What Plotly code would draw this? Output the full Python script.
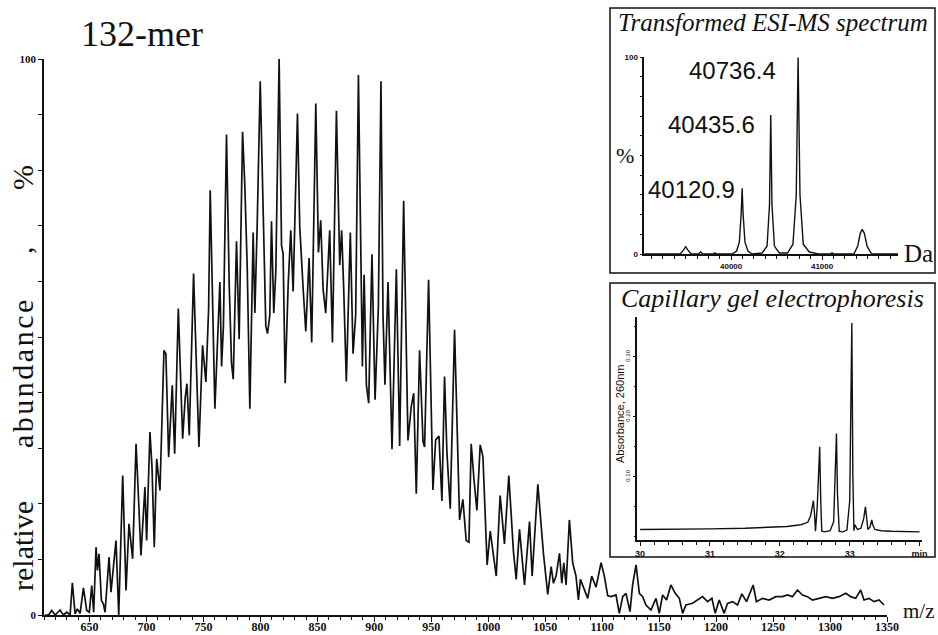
import plotly.graph_objects as go

W, H = 938, 635

# ---------------- ESI-MS spectrum of the 132-mer (m/z, relative abundance %) ----------------
rise_mz = [611, 614, 616.8, 619.8, 624.1, 627, 630, 632.9, 634.9, 637.3, 639.3, 641.7, 644.6, 647.5,
           649.8, 651.9, 653.6, 655.7, 656.9, 658.3, 660.4, 662.1, 663.6, 667.1, 668.8, 670.9, 673.2,
           675.6, 679.1, 682, 684.6, 687.8, 690.8, 692.8, 695.1, 698.6, 700.1, 703, 704.8, 706.8,
           708.9, 711.8, 715.3, 717, 719.4, 722.6, 724.7, 727.9, 731.7, 734, 735.5, 737.5, 741.3,
           746, 749.2, 752.1]
rise_ab = [0, 0, 0.8, 0, 0.9, 0, 0.5, 0, 5.8, 0.2, 1.1, 0.3, 4.9, 0.8,
           0.5, 5.3, 0.5, 12.2, 8, 11, 2.6, 2, 0.5, 10.4, 4.1, 8, 13.4,
           0, 25.1, 4.4, 16.4, 10.1, 30.8, 21.8, 10.7, 23, 13.4, 32.9, 26.6, 12.2,
           28.1, 22.4, 47.6, 47, 28.4, 41.3, 29, 55.1, 31.7, 39.2, 41.6, 32.3, 61.4,
           30.2, 48.5, 41.9]

core_mz = [754.5, 755.9, 757.5, 760, 764.4, 765.9, 767.5, 770.2, 772.6, 774.6, 776.1, 779, 781.3,
           784.3, 786.3, 788.4, 790.7, 793.6, 795.1, 797.1, 799.8, 802.4, 804.7, 806.2, 808.2, 809.7,
           811.7, 813.5, 816.4, 818.5, 819.9, 821.7, 824.3, 826.6, 828.7, 832.5, 834.5, 837.5, 839.8,
           842.7, 845, 848.6, 850.9, 852.9, 855, 857.3, 860.8, 863.2, 866.7, 869.6, 871.3, 873.1,
           875.4, 878.9, 881.3, 883.6, 886, 889.5, 891, 893, 895, 897.9, 900.6, 903.5, 905.8,
           907.6, 909.3, 912, 915.5, 919.3, 922.2, 925.7, 929.5]
core_ab = [55, 76.4, 62, 37.1, 59.9, 44.7, 52, 86.4, 59.2, 45.3, 42.4, 67.2, 49.6,
           86.9, 77.1, 62.5, 37.1, 68.8, 54.3, 69.8, 96, 69.2, 52, 50.6, 53.9, 70.8,
           54.3, 61.9, 100, 66.5, 64.9, 41.7, 59.2, 69.2, 58.2, 90.2, 69.8, 58.6, 51,
           64.2, 49, 92, 65.2, 71, 58.6, 54.3, 69.2, 49, 90.7, 62.9, 69.2, 58.6,
           42, 68.8, 47, 53.9, 97.1, 44.7, 61.2, 41.4, 38.1, 64.9, 38.7, 55.3, 96,
           53.9, 41.4, 59.9, 29.8, 62.2, 30.4, 74.5, 31.4]

tail_mz = [932.4, 934.5, 936.8, 939.7, 942.7, 944.1, 947.6, 951.4, 953.8, 956.7,
           959.3, 961.6, 963.7, 966.6, 970.4, 974.8, 977.7, 980.6, 983, 985,
           987.4, 990, 992.9, 995.3, 999, 1001.7, 1007, 1010.4, 1014.2, 1018,
           1022.1, 1024.5, 1027.4, 1031.8, 1036.2, 1038.5, 1043.5, 1048.4, 1052.2, 1055.2,
           1057.2, 1059.5, 1062.5, 1064.5, 1066.3, 1068.3, 1071.2, 1074.1, 1077, 1079.1,
           1080.9, 1084.4, 1087.3, 1090.8, 1094.6, 1099, 1101.9, 1104.8, 1107.8, 1112.1,
           1115, 1118, 1120.9, 1124.4, 1126.7, 1129.7, 1132.6, 1135.5, 1138.4, 1142.8,
           1147.2, 1150.1, 1153, 1156.5, 1160.3, 1164.1, 1167.7, 1170.6, 1173.5, 1179.3,
           1183.7, 1188.1, 1192.5, 1196.3, 1199.2, 1202.7, 1207.1, 1210, 1214.4, 1218.8,
           1222.6, 1226.7, 1232.5, 1235.4, 1240.7, 1246.5, 1252.4, 1258.2, 1262.6, 1267,
           1271.4, 1275.8, 1280.1, 1284.5, 1290.4, 1296.2, 1302.1, 1307.9, 1313.8, 1318.1,
           1322.5, 1326.9, 1329.8, 1334.2, 1338.6, 1343, 1347.4]
tail_ab = [37.5, 39.9, 21.8, 47.6, 31.2, 30.2, 60.3, 22.5, 31.5, 32.2,
           20.5, 42.9, 29.2, 19.1, 51.3, 17.1, 20.8, 13.4, 13.1, 30.8,
           24.5, 18.8, 30.6, 28.5, 9, 15.1, 7, 21.5, 12.8, 25.1,
           11.4, 6.4, 15.4, 5.4, 16.8, 7, 23.5, 11.1, 3.7, 8.7,
           5.7, 7, 11.1, 5.7, 9.4, 5.4, 17.1, 9.4, 7, 2.7,
           6.4, 4.4, 3, 7, 5, 9.4, 7, 3.5, 3.3, 3.6,
           0.3, 3.3, 3.9, 0.6, 5.4, 9, 3.9, 3.3, 1.8, 0.9,
           3, 0.3, 3.6, 2.7, 5.4, 3.9, 3, 0.3, 1.8, 2.1,
           2.7, 3.3, 2.4, 3, 0.3, 2.7, 0.3, 2.1, 2.4, 1.8,
           3.8, 2.4, 5.4, 2.4, 3, 2.7, 3.3, 3.3, 3.6, 3.3,
           4.5, 3.6, 3.3, 2.7, 3, 3.3, 3, 3.3, 3.9, 3.3,
           3, 4.5, 2.7, 3, 2.4, 2.7, 1.8]

mz = rise_mz + core_mz + tail_mz
ab = rise_ab + core_ab + tail_ab
assert len(mz) == len(ab)

# ---------------- transformed (deconvoluted) spectrum, Da vs % ----------------
peak_da = [40120.9, 40435.6, 40736.4]
peak_pct = [33.4, 70.7, 100]

tms_da = [39045, 39440, 39475, 39500, 39525, 39560, 39640, 39665, 39690, 39800, 39820, 39840,
          40010, 40060, 40090, 40110, peak_da[0], 40132, 40152, 40185, 40230,
          40340, 40395, 40422, peak_da[1], 40449, 40476, 40530,
          40620, 40680, 40716, peak_da[2], 40757, 40793, 40860, 40960,
          41090, 41110, 41130, 41350, 41392, 41420, 41442, 41465, 41495, 41545, 41835]
tms_pct = [0, 0, 2, 3.7, 2, 0, 0, 1, 0, 0, 0.6, 0,
           0, 1.5, 6, 20, peak_pct[0], 20, 6, 1.5, 0,
           0.5, 4, 25, peak_pct[1], 25, 4, 0.5,
           0.5, 5, 30, peak_pct[2], 30, 5, 1, 0,
           0, 0.6, 0, 0, 4, 10.5, 12.5, 10.5, 4, 0, 0]
assert len(tms_da) == len(tms_pct)

# ---------------- capillary gel electrophoresis trace ----------------
cge_min = [30.0, 30.5, 31.0, 31.5, 31.8, 32.1, 32.3, 32.4, 32.44, 32.47, 32.48, 32.495, 32.51,
           32.535, 32.555, 32.57, 32.585, 32.6, 32.64, 32.72, 32.77, 32.795, 32.81, 32.825, 32.85,
           32.9, 32.96, 33.0, 33.015, 33.03, 33.045, 33.06, 33.075, 33.09, 33.11, 33.16, 33.2,
           33.225, 33.24, 33.26, 33.29, 33.315, 33.33, 33.36, 33.45, 33.6, 34.0]
cge_abs = [0.012, 0.012, 0.013, 0.014, 0.015, 0.017, 0.02, 0.024, 0.035, 0.055, 0.06, 0.04, 0.009,
           0.05, 0.12, 0.15, 0.06, 0.009, 0.008, 0.01, 0.025, 0.11, 0.172, 0.07, 0.009,
           0.008, 0.011, 0.06, 0.25, 0.356, 0.1, 0.01, 0.02, 0.016, 0.012, 0.014, 0.03,
           0.05, 0.03, 0.012, 0.016, 0.028, 0.02, 0.012, 0.01, 0.009, 0.008]
assert len(cge_min) == len(cge_abs)


def fx(px):
    return px / W


def fy(py):
    return 1 - py / H


SERIF = "Liberation Serif, Times New Roman, serif"
SANS = "Liberation Sans, Arial, sans-serif"
INK = "#111111"

fig = go.Figure()
fig.add_trace(go.Scatter(x=mz, y=ab, mode="lines", xaxis="x", yaxis="y",
                         line=dict(color=INK, width=1.7), hoverinfo="skip"))
fig.add_trace(go.Scatter(x=tms_da, y=tms_pct, mode="lines", xaxis="x2", yaxis="y2",
                         line=dict(color=INK, width=1.4), hoverinfo="skip"))
fig.add_trace(go.Scatter(x=cge_min, y=cge_abs, mode="lines", xaxis="x3", yaxis="y3",
                         line=dict(color=INK, width=1.4), hoverinfo="skip"))

base_axis = dict(showgrid=False, zeroline=False, showline=True, linecolor=INK, linewidth=1.5,
                 ticks="outside", tickcolor=INK, tickwidth=1.2, fixedrange=True, automargin=False)

pct_ticks = list(range(0, 101, 10))
pct_text = ["0"] + [""] * 9 + ["100"]

fig.update_layout(
    width=W, height=H,
    margin=dict(l=0, r=0, t=0, b=0, pad=0, autoexpand=False),
    paper_bgcolor="white", plot_bgcolor="rgba(0,0,0,0)",
    showlegend=False,
    # main spectrum
    xaxis=dict(base_axis, domain=[fx(44), fx(887)], range=[610, 1350], anchor="y",
               tickmode="linear", tick0=650, dtick=50, ticklen=5, ticklabelstandoff=-5,
               minor=dict(ticks="outside", dtick=10, tick0=650, ticklen=3, tickcolor=INK, tickwidth=1),
               tickfont=dict(family=SERIF, size=12, color=INK, weight="bold")),
    yaxis=dict(base_axis, domain=[fy(615), fy(59)], range=[0, 100], anchor="x",
               tickmode="array", tickvals=pct_ticks, ticktext=pct_text, ticklen=4,
               tickfont=dict(family=SERIF, size=11, color=INK, weight="bold")),
    # transformed spectrum inset
    xaxis2=dict(base_axis, domain=[fx(644.3), fx(898)], range=[39045, 41835], anchor="y2",
                tickmode="linear", tick0=40000, dtick=1000, ticklen=4, tickformat="d",
                minor=dict(ticks="outside", dtick=125, tick0=40000, ticklen=3, tickcolor=INK, tickwidth=1),
                tickfont=dict(family=SANS, size=8, color=INK, weight="bold")),
    yaxis2=dict(base_axis, domain=[fy(254), fy(57.3)], range=[0, 100], anchor="x2",
                tickmode="array", tickvals=pct_ticks, ticktext=pct_text, ticklen=3,
                tickfont=dict(family=SANS, size=8, color=INK, weight="bold")),
    # electrophoresis inset
    xaxis3=dict(base_axis, domain=[fx(637.3), fx(921.7)], range=[29.96, 34.03], anchor="y3",
                tickmode="linear", tick0=30, dtick=1, ticklen=4, labelalias={"34": "min"},
                minor=dict(ticks="outside", dtick=0.2, tick0=30, ticklen=3, tickcolor=INK, tickwidth=1),
                tickfont=dict(family=SANS, size=9, color=INK, weight="bold")),
    yaxis3=dict(base_axis, domain=[fy(540), fy(316.7)], range=[-0.0055, 0.3667], anchor="x3",
                tickmode="array", tickvals=[0.1, 0.2, 0.3], ticktext=["0.10", "0.20", "0.30"],
                ticklen=3, tickangle=-90,
                minor=dict(ticks="outside", tickmode="linear", tick0=0, dtick=0.05, ticklen=2,
                           tickcolor=INK, tickwidth=1),
                tickfont=dict(family=SANS, size=6, color=INK)),
)

# inset frames
for y0, y1 in [(8, 273), (283, 557)]:
    fig.add_shape(type="rect", xref="paper", yref="paper",
                  x0=fx(610), x1=fx(935), y0=fy(y1), y1=fy(y0),
                  line=dict(color=INK, width=1.5), layer="above")

ann = []


def text(s, px, py, size, family=SERIF, italic=False, angle=0, xanchor="center", weight="normal"):
    ann.append(dict(text=s, x=fx(px), y=fy(py), xref="paper", yref="paper", showarrow=False,
                    xanchor=xanchor, yanchor="middle", textangle=angle,
                    font=dict(family=family, size=size, color=INK,
                              style="italic" if italic else "normal", weight=weight)))


text("132-mer", 141.5, 34, 36)
text("m/z", 919, 611, 21)
text("relative", 22, 546, 30, angle=-90)
text("a\u200ab\u200au\u200an\u200ad\u200aa\u200an\u200ac\u200ae", 22, 374, 30, angle=-90)
text(",", 22, 250, 30, angle=-90)
text("%", 22, 178, 30, angle=-90)

text("Transformed ESI-MS spectrum", 772.5, 22, 25, italic=True)
text("%", 625, 155, 22)
text("Da", 918, 253, 25)

text("Capillary gel electrophoresis", 772.5, 298, 26, italic=True)
text("Absorbance, 260nm", 620, 414, 11, family=SANS, angle=-90)

# labelled peaks of the transformed spectrum
label_y = [33.0, 66.0, 93.4]
label_shift = [-5, -14, -20]
for da, ly, sh in zip(peak_da, label_y, label_shift):
    ann.append(dict(text=f"{da:.1f}", x=da, y=ly, xref="x2", yref="y2", showarrow=False,
                    xanchor="right", yanchor="middle", xshift=sh,
                    font=dict(family=SANS, size=24, color=INK)))

fig.update_layout(annotations=ann)
fig.write_html("out.html")
